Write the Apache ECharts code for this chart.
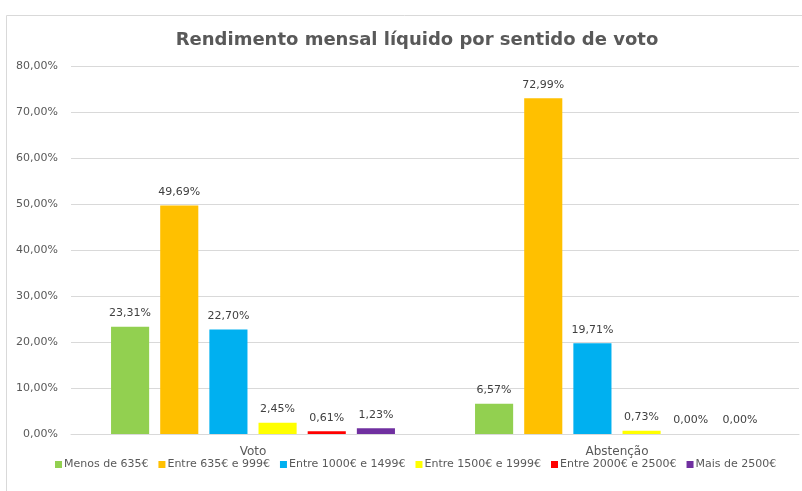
<!DOCTYPE html>
<html><head><meta charset="utf-8">
<script src="https://cdn.jsdelivr.net/npm/echarts@6/dist/echarts.min.js"></script>
<style>html,body{margin:0;padding:0;background:#fff}#c{width:802px;height:491px}</style>
</head><body><div id="c"></div>
<script>
const categories = ['Voto', 'Abstenção'];
const seriesNames = ['Menos de 635€', 'Entre 635€ e 999€', 'Entre 1000€ e 1499€', 'Entre 1500€ e 1999€', 'Entre 2000€ e 2500€', 'Mais de 2500€'];
const menos635 = [23.31, 6.57];
const e635a999 = [49.69, 72.99];
const e1000a1499 = [22.70, 19.71];
const e1500a1999 = [2.45, 0.73];
const e2000a2500 = [0.61, 0.00];
const mais2500 = [1.23, 0.00];
const colors = ['#92D050', '#FFC000', '#00B0F0', '#FFFF00', '#FF0000', '#7030A0'];
const yTicks = [0, 10, 20, 30, 40, 50, 60, 70, 80];

const allData = [menos635, e635a999, e1000a1499, e1500a1999, e2000a2500, mais2500];
const FONT = 'DejaVu Sans';
const fmt = v => v.toFixed(2).replace('.', ',') + '%';

const chart = echarts.init(document.getElementById('c'), null, {renderer: 'canvas'});
chart.setOption({
  animation: false,
  color: colors,
  textStyle: {fontFamily: FONT},
  graphic: [{
    type: 'rect', shape: {x: 6.5, y: 15.5, width: 900, height: 600},
    style: {fill: 'none', stroke: '#d9d9d9', lineWidth: 1}, silent: true, z: -1
  }],
  title: {
    text: 'Rendimento mensal líquido por sentido de voto',
    left: 412, top: 26, textAlign: 'center',
    textStyle: {fontFamily: FONT, fontSize: 18, fontWeight: 'bold', color: '#595959'}
  },
  legend: {
    data: seriesNames, top: 454, left: 50,
    icon: 'rect', itemWidth: 7, itemHeight: 7, itemGap: 10,
    textStyle: {fontFamily: FONT, fontSize: 11, color: '#595959', padding: [0, 0, 0, -3]}
  },
  grid: {left: 71, right: 3, top: 66, bottom: 57, containLabel: false},
  xAxis: {
    type: 'category', data: categories,
    axisLine: {lineStyle: {color: '#d9d9d9'}}, axisTick: {show: false},
    axisLabel: {fontFamily: FONT, fontSize: 12, color: '#595959', margin: 12}
  },
  yAxis: {
    type: 'value', min: yTicks[0], max: yTicks[yTicks.length - 1], interval: 10,
    axisLine: {show: false}, axisTick: {show: false},
    splitLine: {lineStyle: {color: '#d9d9d9'}},
    axisLabel: {fontFamily: FONT, fontSize: 11, color: '#595959', margin: 13, formatter: v => fmt(v)}
  },
  series: seriesNames.map((n, i) => ({
    name: n, type: 'bar', data: allData[i],
    barCategoryGap: '22%', barGap: '29%',
    itemStyle: {color: colors[i]},
    label: {show: true, position: 'top', distance: 8, fontFamily: FONT, fontSize: 11, color: '#404040', formatter: p => fmt(p.value)}
  }))
});
</script></body></html>
